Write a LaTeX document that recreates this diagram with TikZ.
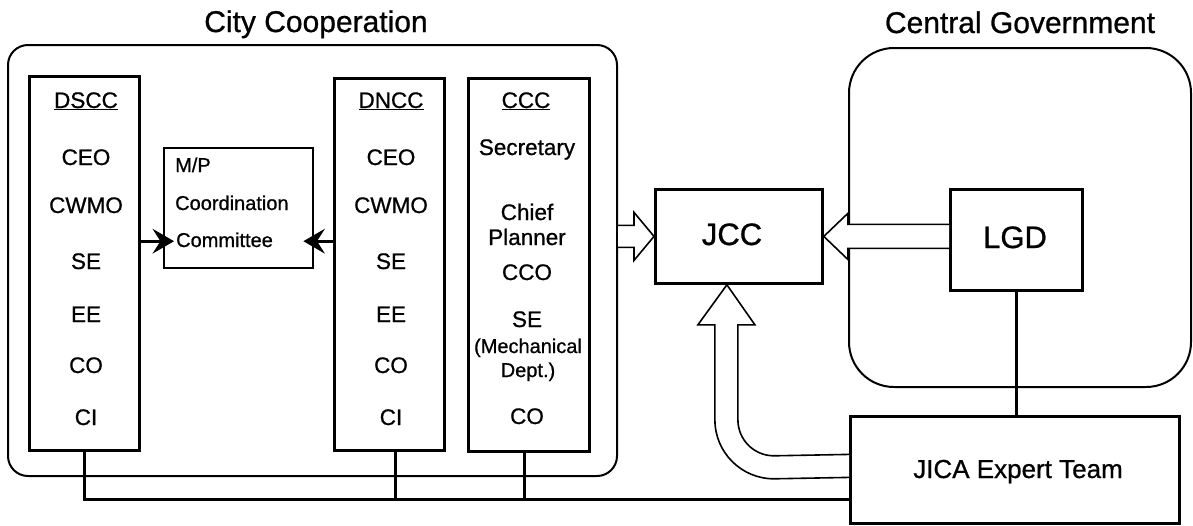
\documentclass[tikz,border=0pt]{standalone}
\usepackage{fontspec}
\setmainfont{Liberation Sans}[UprightFeatures={FakeBold=0.8}]
\usetikzlibrary{calc,arrows.meta}
\tikzset{
  frame/.style={draw,line width=2pt,inner sep=0pt,anchor=north west},
  box/.style={draw,line width=2.8pt,inner sep=0pt,anchor=north west},
  lbl/.style={inner sep=0pt,anchor=base,font=\fontsize{22.5}{26}\selectfont},
  small/.style={inner sep=0pt,anchor=base,font=\fontsize{20}{24}\selectfont},
  smallw/.style={inner sep=0pt,anchor=base west,font=\fontsize{20}{24}\selectfont},
  title/.style={inner sep=0pt,anchor=base,font=\fontsize{30}{36}\selectfont},
  conn/.style={line width=2.4pt},
  shaft/.style={line width=3.4pt},
  barb/.style={fill=black,draw=black,line width=1pt,line join=miter},
  hollow/.style={draw,line width=1.6pt,fill=white,line join=miter}
}
\begin{document}
\begin{tikzpicture}[x=1pt,y=-1pt]
\useasboundingbox (0,0) rectangle (1193,525);
\fill[white] (0,0) rectangle (1193,525);

% titles
\node[title] (tcity) at (316,32) {City Cooperation};
\node[title] (tcg) at (1020,33) {Central Government};

% group frames
\node[frame,rounded corners=20pt,minimum width=609pt,minimum height=431pt] (city) at (7,44) {};
\node[frame,rounded corners=45pt,minimum width=342pt,minimum height=339pt] (cg) at (848,47) {};

% columns
\node[box,minimum width=110pt,minimum height=374pt] (dscc) at (28,75) {};
\node[box,minimum width=110pt,minimum height=372pt] (dncc) at (333,77) {};
\node[box,minimum width=121pt,minimum height=373pt] (ccc) at (467,77) {};
\node[box,line width=2.4pt,minimum width=149pt,minimum height=120pt] (mp) at (163,147) {};

% DSCC texts
\node[lbl] (d0) at (86,108) {\underline{DSCC}};
\node[lbl] (d1) at (86,165) {CEO};
\node[lbl] (d2) at (86,213) {CWMO};
\node[lbl] (d3) at (86,269) {SE};
\node[lbl] (d4) at (86,322) {EE};
\node[lbl] (d5) at (86,373) {CO};
\node[lbl] (d6) at (86,425) {CI};

% DNCC texts
\node[lbl] (n0) at (391,108) {\underline{DNCC}};
\node[lbl] (n1) at (391,165) {CEO};
\node[lbl] (n2) at (391,213) {CWMO};
\node[lbl] (n3) at (391,269) {SE};
\node[lbl] (n4) at (391,322) {EE};
\node[lbl] (n5) at (391,373) {CO};
\node[lbl] (n6) at (391,425) {CI};

% CCC texts
\node[lbl] (c0) at (526,108) {\underline{CCC}};
\node[lbl] (c1) at (527,155) {Secretary};
\node[lbl] (c2) at (527,220) {Chief};
\node[lbl] (c3) at (527,245) {Planner};
\node[lbl] (c4) at (527,280) {CCO};
\node[lbl] (c5) at (527,327) {SE};
\node[small] (c6) at (528,353) {(Mechanical};
\node[small] (c7) at (528,377) {Dept.)};
\node[lbl] (c8) at (527,424) {CO};

% M/P committee texts
\node[smallw] (m1) at (175,172) {M/P};
\node[smallw] (m2) at (175,210) {Coordination};
\node[smallw] (m3) at (176,247) {Committee};

% right side boxes
\node[box,minimum width=167pt,minimum height=94pt] (jcc) at (654,188) {};
\node[box,minimum width=132pt,minimum height=101pt] (lgd) at (949,188) {};
\node[box,minimum width=329pt,minimum height=107pt] (jica) at (849,415) {};
\node[inner sep=0pt,anchor=base,font=\fontsize{31}{36}\selectfont] (tjcc) at (732,245) {JCC};
\node[inner sep=0pt,anchor=base,font=\fontsize{31}{36}\selectfont] (tlgd) at (1015,248) {LGD};
\node[inner sep=0pt,anchor=base,font=\fontsize{26}{30}\selectfont] (tjica) at (1018,478) {JICA Expert Team};

% arrows into M/P committee (barbed heads)
\coordinate (mpL) at ($(mp.west)+(10,33)$);
\coordinate (mpR) at ($(mp.east)+(-10,33)$);
\draw[shaft] (dscc.east |- mpL) -- ($(mpL)+(-10,0)$);
\fill[barb] (mpL) -- ($(mpL)+(-19,-11)$) -- ($(mpL)+(-12,0)$) -- ($(mpL)+(-19,11)$) -- cycle;
\draw[shaft] (dncc.west |- mpR) -- ($(mpR)+(10,0)$);
\fill[barb] (mpR) -- ($(mpR)+(19,-11)$) -- ($(mpR)+(12,0)$) -- ($(mpR)+(19,11)$) -- cycle;

% bus line to JICA
\coordinate (busR) at ($(jica.west)+(0,29.5)$);
\coordinate (dn) at ($(dncc.south)+(6,0)$);
\coordinate (cc) at ($(ccc.south)+(-4.5,0)$);
\draw[conn] (dscc.south) |- (busR);
\draw[conn] (dn) -- (dn |- busR);
\draw[conn] (cc) -- (cc |- busR);

% LGD to JICA
\draw[conn] (lgd.south) -- (lgd.south |- jica.north);

% hollow arrow city -> JCC
\coordinate (cs) at (city.east |- jcc.west);
\draw[hollow] ($(cs)+(0,-11)$) -- ($(jcc.west)+(-20,-11)$) -- ($(jcc.west)+(-20,-24)$)
  -- (jcc.west) -- ($(jcc.west)+(-20,24)$) -- ($(jcc.west)+(-20,11)$) -- ($(cs)+(0,11)$);

% hollow arrow LGD -> JCC
\coordinate (ls) at (lgd.west |- jcc.east);
\draw[hollow] ($(ls)+(0,-12)$) -- ($(jcc.east)+(24,-12)$) -- ($(jcc.east)+(24,-23)$)
  -- (jcc.east) -- ($(jcc.east)+(24,23)$) -- ($(jcc.east)+(24,12)$) -- ($(ls)+(0,12)$);

% curved hollow arrow JICA -> JCC
\coordinate (tip) at ($(jcc.south)+(-12,0)$);
\coordinate (jo) at ($(jica.west)+(0,7.5)$);
\coordinate (ji) at ($(jica.west)+(0,-15.5)$);
\draw[hollow] (jo) -- ($(tip)+(47,194)$)
  .. controls ($(tip)+(14.4,194)$) and ($(tip)+(-12,167.6)$) .. ($(tip)+(-12,135)$)
  -- ($(tip)+(-12,40)$) -- ($(tip)+(-29,40)$) -- (tip) -- ($(tip)+(28,40)$)
  -- ($(tip)+(11,40)$) -- ($(tip)+(11,135)$)
  .. controls ($(tip)+(11,154.9)$) and ($(tip)+(27.1,171)$) .. ($(tip)+(47,171)$)
  -- (ji);
\end{tikzpicture}
\end{document}
